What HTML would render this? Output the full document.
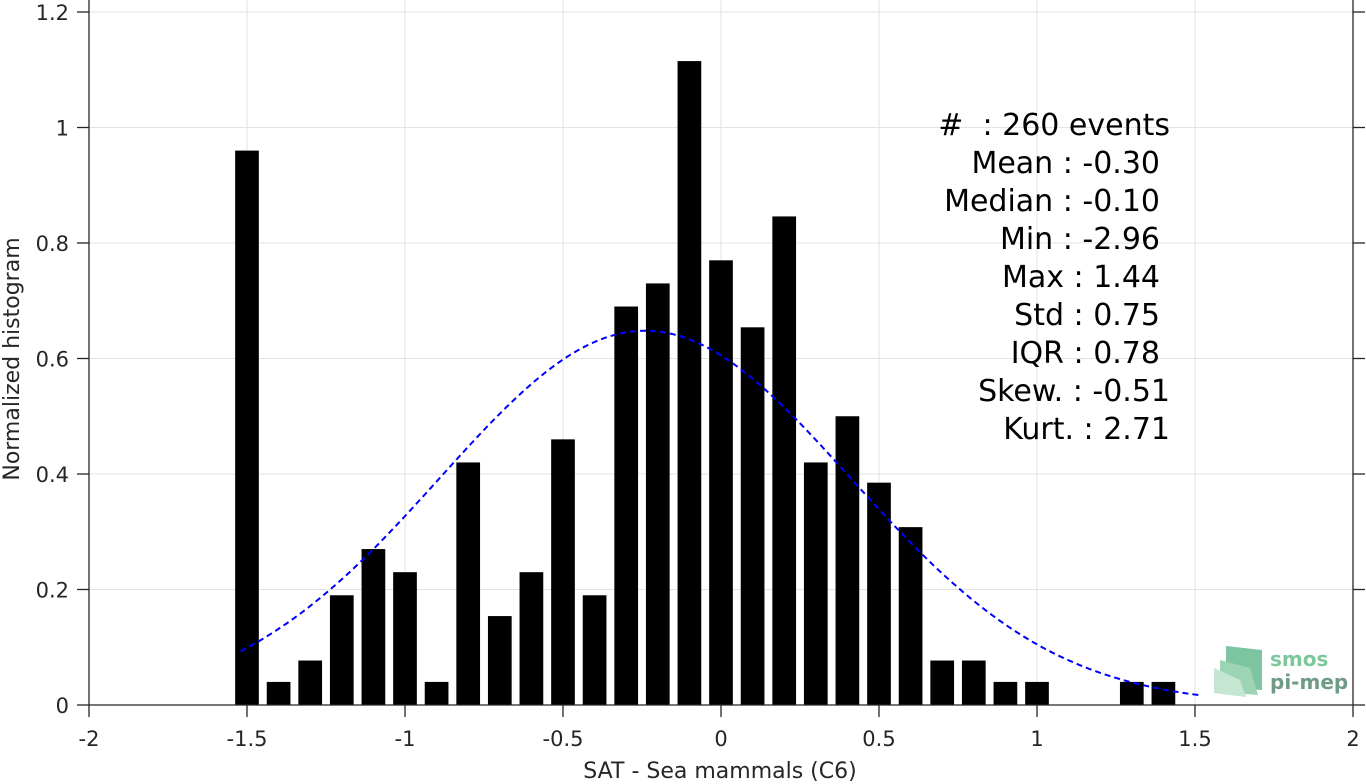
<!DOCTYPE html>
<html><head><meta charset="utf-8"><style>
body{margin:0;background:#fff;}
svg{display:block;font-family:"DejaVu Sans","Liberation Sans",sans-serif;}
</style></head><body>
<svg id="chart" width="1366" height="784">
<g id="grid"></g>
<g id="bars"></g>
<path id="fit" fill="none" stroke="#0000ff" stroke-width="2" stroke-dasharray="6,4"/>
<g id="axes"></g>
<g font-size="30" fill="#000" text-anchor="end">
<text x="1170" y="135" xml:space="preserve">#  : 260 events</text>
<text x="1160" y="173">Mean : -0.30</text>
<text x="1160" y="211">Median : -0.10</text>
<text x="1160" y="249">Min : -2.96</text>
<text x="1160" y="287">Max : 1.44</text>
<text x="1160" y="325">Std : 0.75</text>
<text x="1160" y="363">IQR : 0.78</text>
<text x="1170" y="401">Skew. : -0.51</text>
<text x="1170" y="439">Kurt. : 2.71</text>
</g>
<g>
<polygon points="1226,646 1262,650 1262,690 1226,688" fill="#7dc4a0"/>
<polygon points="1220,660 1250,668 1258,695 1220,692" fill="#9dd4b6"/>
<polygon points="1214,668 1240,680 1246,697 1214,693" fill="#c4e6d2"/>
<text x="1270" y="666" font-size="20" font-weight="bold" fill="#7cc89c">smos</text>
<text x="1270" y="689" font-size="20" font-weight="bold" fill="#6f9a86">pi-mep</text>
</g>
<text x="720" y="778" font-size="22" fill="#262626" text-anchor="middle">SAT - Sea mammals (C6)</text>
<text transform="translate(19,359) rotate(-90)" font-size="22" fill="#262626" text-anchor="middle">Normalized histogram</text>
</svg>
<script>
const binCenters=[-1.5,-1.4,-1.3,-1.2,-1.1,-1.0,-0.9,-0.8,-0.7,-0.6,-0.5,-0.4,-0.3,-0.2,-0.1,0,0.1,0.2,0.3,0.4,0.5,0.6,0.7,0.8,0.9,1.0,1.1,1.2,1.3,1.4];
const binValues=[0.96,0.04,0.077,0.19,0.27,0.23,0.04,0.42,0.154,0.23,0.46,0.19,0.69,0.73,1.115,0.77,0.654,0.846,0.42,0.5,0.385,0.308,0.077,0.077,0.04,0.04,0,0,0.04,0.04];
const xTicks=[-2,-1.5,-1,-0.5,0,0.5,1,1.5,2];
const xTickLabels=["-2","-1.5","-1","-0.5","0","0.5","1","1.5","2"];
const yTicks=[0,0.2,0.4,0.6,0.8,1,1.2];
const yTickLabels=["0","0.2","0.4","0.6","0.8","1","1.2"];
const fitMu=[-0.24];
const fitSigma=[0.65];
const fitPeak=[0.648];
const fitRange=[-1.52,1.52];
const X0=89,X1=1353,Y0=705,Y1=12;
const sx=v=>X0+(v+2)/4*(X1-X0);
const sy=v=>Y0-v/1.2*(Y0-Y1);
const NS="http://www.w3.org/2000/svg";
function mk(t,a,p){const e=document.createElementNS(NS,t);for(const k in a)e.setAttribute(k,a[k]);p.appendChild(e);return e;}
const grid=document.getElementById('grid'),axes=document.getElementById('axes'),bars=document.getElementById('bars');
xTicks.forEach((v,i)=>{
 const g=mk('line',{x1:sx(v),x2:sx(v),y1:0,y2:Y0,stroke:'#e3e3e3','stroke-width':1},grid);
 
 mk('line',{x1:sx(v),x2:sx(v),y1:Y0,y2:Y0+12,stroke:'#262626','stroke-width':1.3},axes);
 const t=mk('text',{x:sx(v),y:Y0+41,'font-size':21,fill:'#262626','text-anchor':'middle'},axes);
 t.textContent=xTickLabels[i];
 
 
});
yTicks.forEach((v,i)=>{
 const g=mk('line',{x1:X0,x2:X1,y1:sy(v),y2:sy(v),stroke:'#e3e3e3','stroke-width':1},grid);
 
 mk('line',{x1:X0-12,x2:X0,y1:sy(v),y2:sy(v),stroke:'#262626','stroke-width':1.3},axes);
 mk('line',{x1:X1,x2:X1+12,y1:sy(v),y2:sy(v),stroke:'#262626','stroke-width':1.3},axes);
 const t=mk('text',{x:X0-20,y:sy(v)+8,'font-size':21,fill:'#262626','text-anchor':'end'},axes);
 t.textContent=yTickLabels[i];
 
 
});
mk('line',{x1:X0,x2:X0,y1:0,y2:Y0,stroke:'#262626','stroke-width':1.3},axes);
mk('line',{x1:X1,x2:X1,y1:0,y2:Y0,stroke:'#262626','stroke-width':1.3},axes);
mk('line',{x1:X0,x2:X1,y1:Y0,y2:Y0,stroke:'#262626','stroke-width':1.3},axes);
const bw=0.075;
binCenters.forEach((c,i)=>{
 const v=binValues[i];if(v<=0)return;
 const r=mk('rect',{x:sx(c-bw/2),y:sy(v),width:sx(c+bw/2)-sx(c-bw/2),height:Y0-sy(v),fill:'#000'},bars);
 
 
});
let d='';const mu=fitMu[0],s=fitSigma[0],A=fitPeak[0];
for(let k=0;k<=200;k++){const x=fitRange[0]+(fitRange[1]-fitRange[0])*k/200;
 const y=A*Math.exp(-(x-mu)*(x-mu)/(2*s*s));
 d+=(k?'L':'M')+sx(x).toFixed(1)+','+sy(y).toFixed(1);}
document.getElementById('fit').setAttribute('d',d);
</script>
</body></html>
